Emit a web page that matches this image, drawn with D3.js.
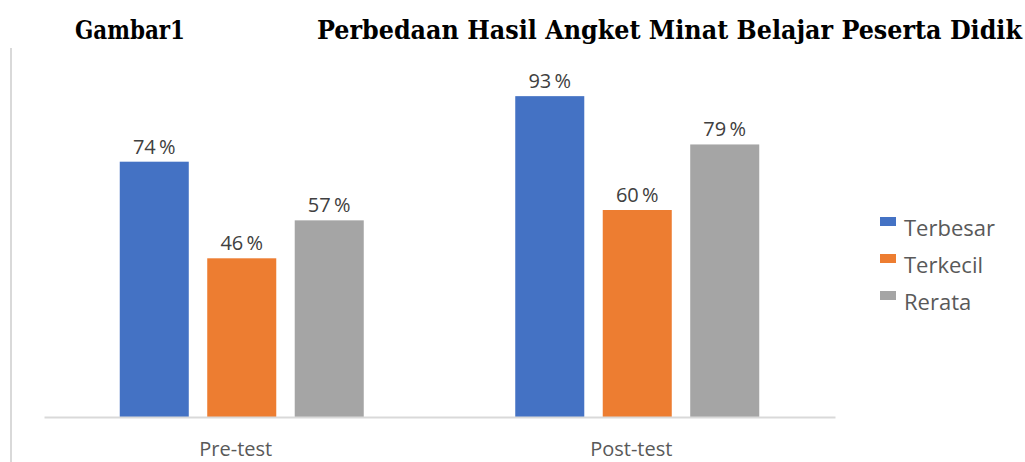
<!DOCTYPE html>
<html lang="en">
<head>
<meta charset="utf-8">
<title>Perbedaan Hasil Angket</title>
<script src="https://cdnjs.cloudflare.com/ajax/libs/d3/7.8.5/d3.min.js"></script>
<style>
  body { margin: 0; background: #fff; }
  svg { display: block; }
</style>
</head>
<body>
<div id="chart"></div>
<script>
// data
var categories = ["Pre-test", "Post-test"];
var seriesNames = ["Terbesar", "Terkecil", "Rerata"];
var terbesar = [74, 93];
var terkecil = [46, 60];
var rerata = [57, 79];
var colors = ["#4472c4", "#ed7d31", "#a5a5a5"];

var width = 1025, height = 462;
var baseY = 417;
var sans = "'Open Sans', 'Liberation Sans', sans-serif";

var svg = d3.select("#chart").append("svg")
  .attr("width", width)
  .attr("height", height);

// frame line on the left
svg.append("line")
  .attr("x1", 11).attr("x2", 11)
  .attr("y1", 48).attr("y2", height)
  .attr("stroke", "#d9d9d9").attr("stroke-width", 2);

// title
var title = svg.append("g")
  .style("font-family", "'DejaVu Serif Condensed', 'DejaVu Serif', serif")
  .style("font-stretch", "condensed")
  .style("font-weight", "bold")
  .style("font-size", "26px")
  .attr("fill", "#000");
title.append("text").attr("x", 75).attr("y", 39)
  .attr("textLength", 110).attr("lengthAdjust", "spacingAndGlyphs")
  .text("Gambar1");
title.append("text").attr("x", 317).attr("y", 39)
  .attr("textLength", 705).attr("lengthAdjust", "spacingAndGlyphs")
  .text("Perbedaan Hasil Angket Minat Belajar Peserta Didik");

var x0 = d3.scaleBand()
  .domain(categories)
  .range([44, 835]);

var x1 = d3.scaleBand()
  .domain(seriesNames)
  .range([-122, 122])
  .paddingInner(0.211);

var y = d3.scaleLinear()
  .domain([0, 100])
  .range([baseY, 72]);

var rows = categories.map(function(c, i) {
  return { cat: c, vals: [terbesar[i], terkecil[i], rerata[i]] };
});

var groups = svg.selectAll(".grp")
  .data(rows)
  .enter().append("g")
  .attr("class", "grp")
  .attr("transform", function(d) { return "translate(" + (x0(d.cat) + x0.bandwidth() / 2) + ",0)"; });

groups.selectAll("rect")
  .data(function(d) { return d.vals.map(function(v, j) { return { s: seriesNames[j], v: v, j: j }; }); })
  .enter().append("rect")
  .attr("x", function(d) { return x1(d.s); })
  .attr("y", function(d) { return y(d.v); })
  .attr("width", x1.bandwidth())
  .attr("height", function(d) { return baseY - y(d.v); })
  .attr("fill", function(d) { return colors[d.j]; });

groups.selectAll(".lbl")
  .data(function(d) { return d.vals.map(function(v, j) { return { s: seriesNames[j], v: v }; }); })
  .enter().append("text")
  .attr("class", "lbl")
  .attr("x", function(d) { return x1(d.s) + x1.bandwidth() / 2; })
  .attr("y", function(d) { return y(d.v) - 8; })
  .attr("text-anchor", "middle")
  .style("font-family", sans)
  .style("font-size", "20px")
  .attr("fill", "#404040")
  .text(function(d) { return d.v + "\u2009%"; });

// baseline axis
var xAxis = d3.axisBottom(x0).tickSize(0).tickPadding(0);
var ax = svg.append("g")
  .attr("transform", "translate(0," + baseY + ")")
  .call(xAxis);
ax.select(".domain").attr("stroke", "#d9d9d9").attr("stroke-width", 2);
ax.selectAll("text")
  .attr("dy", null)
  .attr("y", 39)
  .attr("dx", -6)
  .style("font-family", sans)
  .style("font-size", "20px")
  .attr("fill", "#595959");

// legend
var legend = svg.selectAll(".leg")
  .data(seriesNames)
  .enter().append("g")
  .attr("class", "leg")
  .attr("transform", function(d, i) { return "translate(880," + (217 + i * 37) + ")"; });
legend.append("rect")
  .attr("width", 16).attr("height", 9)
  .attr("fill", function(d, i) { return colors[i]; });
legend.append("text")
  .attr("x", 24).attr("y", 19)
  .style("font-family", sans)
  .style("font-size", "22px")
  .attr("fill", "#595959")
  .text(function(d) { return d; });
</script>
</body>
</html>
